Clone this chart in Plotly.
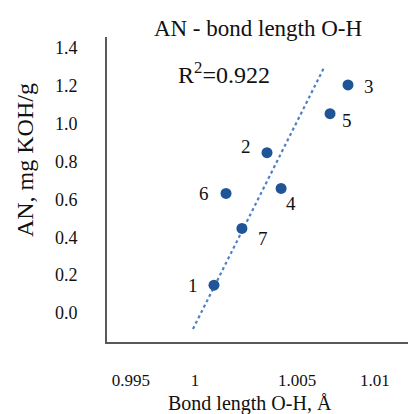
import plotly.graph_objects as go

# Data
labels = ["1", "2", "3", "4", "5", "6", "7"]
bond_length = [1.00093, 1.00353, 1.00750, 1.00422, 1.00662, 1.00152, 1.00230]
acid_number = [0.147, 0.847, 1.205, 0.658, 1.053, 0.632, 0.447]

trend_x = [0.99990, 1.00632]
trend_y = [-0.084, 1.295]
r_squared = 0.922

x_tick_labels = ["0.995", "1", "1.005", "1.01"]
x_tick_pos = [0.99686, 1.0, 1.005, 1.00882]
y_ticks = [0.0, 0.2, 0.4, 0.6, 0.8, 1.0, 1.2, 1.4]

# label offsets (pixels) for the point numbers
label_dx = [-21, -21, 21, 10, 17, -22, 21]
label_dy = [0, 6, -2, -15, -7, 0, -10]

FONT = "Liberation Serif, Times New Roman, serif"
TXT = "#111111"

fig = go.Figure()
fig.add_trace(go.Scatter(
    x=trend_x, y=trend_y, mode="lines",
    line=dict(color="#4f7fc0", width=2.2, dash="dot"),
    hoverinfo="skip", showlegend=False))
fig.add_trace(go.Scatter(
    x=bond_length, y=acid_number, mode="markers",
    marker=dict(color="#1f5497", size=11),
    showlegend=False))

annotations = []
for lab, xv, yv, dx, dy in zip(labels, bond_length, acid_number, label_dx, label_dy):
    annotations.append(dict(x=xv, y=yv, xref="x", yref="y", text=lab,
                            showarrow=False, xshift=dx, yshift=dy,
                            xanchor="center", yanchor="middle",
                            font=dict(family=FONT, size=19, color=TXT)))

annotations.append(dict(x=0.389, y=0.882, xref="paper", yref="paper",
                        text=f"R<sup>2</sup>={r_squared}", showarrow=False,
                        xanchor="center", yanchor="middle",
                        font=dict(family=FONT, size=24, color=TXT)))
annotations.append(dict(x=-0.272, y=0.597, xref="paper", yref="paper",
                        text="AN, mg KOH/g", textangle=-90, showarrow=False,
                        xanchor="center", yanchor="middle",
                        font=dict(family=FONT, size=24, color=TXT)))
annotations.append(dict(x=0.475, y=-0.200, xref="paper", yref="paper",
                        text="Bond length O-H, Å", showarrow=False,
                        xanchor="center", yanchor="middle",
                        font=dict(family=FONT, size=20, color=TXT)))

fig.update_layout(
    width=408, height=414,
    margin=dict(l=107, r=0, t=37, b=72),
    paper_bgcolor="white", plot_bgcolor="white",
    title=dict(text="AN - bond length O-H", x=258/408, xref="container",
               xanchor="center", y=1-28/414, yanchor="middle",
               font=dict(family=FONT, size=23, color=TXT)),
    annotations=annotations,
    xaxis=dict(range=[0.995686, 1.010441], tickvals=x_tick_pos,
               ticktext=x_tick_labels, showgrid=False, zeroline=False,
               showline=True, linecolor="#595959", linewidth=2,
               ticks="", ticklabelstandoff=22,
               tickfont=dict(family=FONT, size=17, color=TXT)),
    yaxis=dict(range=[-0.153, 1.458], tickvals=y_ticks, tickformat=".1f",
               showgrid=False, zeroline=False,
               showline=True, linecolor="#595959", linewidth=2,
               ticks="", ticklabelstandoff=24,
               tickfont=dict(family=FONT, size=18, color=TXT)),
)

fig.write_html("out.html", config={"displayModeBar": False},
               post_script="document.body.style.margin='0px';document.body.style.overflow='hidden';")
